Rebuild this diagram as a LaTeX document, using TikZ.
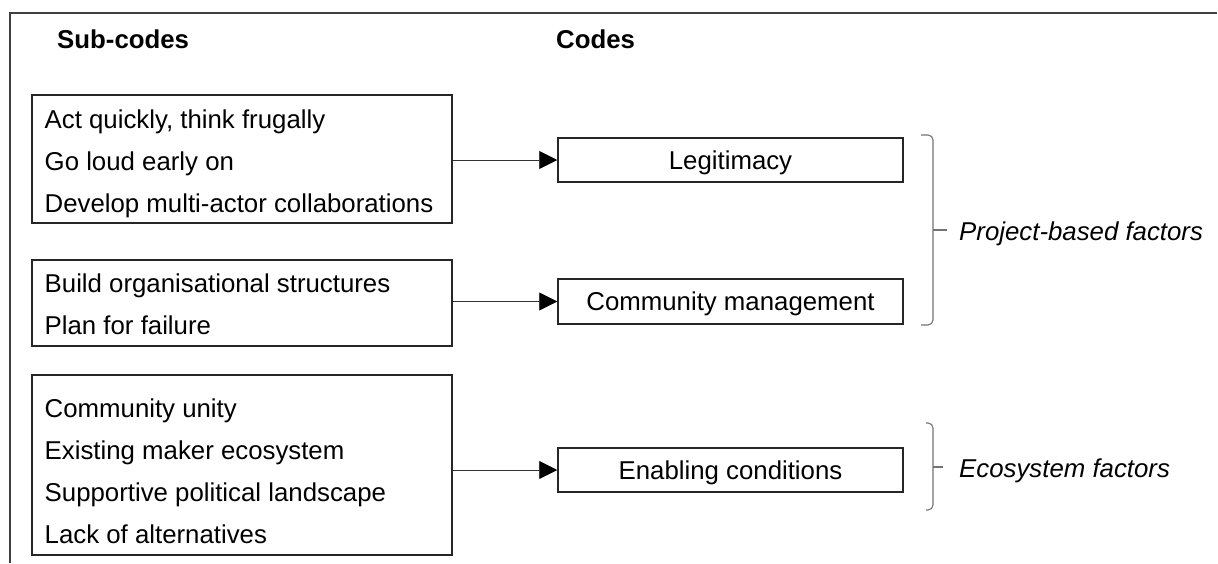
\documentclass[tikz,border=0pt]{standalone}
\usepackage{fontspec}
\setmainfont{Liberation Sans}
\usetikzlibrary{arrows.meta}
\begin{document}
\begin{tikzpicture}[x=1pt,y=-1pt,
  font=\fontsize{25.8}{30}\selectfont,
  subbox/.style={draw=black!85, line width=1.5pt, minimum width=420pt, inner sep=0pt},
  codebox/.style={draw=black!85, line width=1.5pt, minimum width=345pt, minimum height=44pt,
                  inner sep=0pt, text height=18pt, text depth=0pt},
  txt/.style={anchor=base west, inner sep=0pt},
  head/.style={anchor=base west, inner sep=0pt, font=\fontsize{25.8}{30}\selectfont\bfseries},
  factor/.style={anchor=base west, inner sep=0pt, font=\fontsize{25.8}{30}\selectfont\itshape},
  conn/.style={draw=black!80, line width=0.9pt, -{Triangle[length=18pt,width=18pt,color=black]}},
  brace/.style={draw=black!55, line width=1.1pt, rounded corners=5pt},
  framestyle/.style={draw=black!75, line width=2pt}
]
\useasboundingbox (0,0) rectangle (1218,563);
\draw[framestyle] (10,563) -- (10,13) -- (1217,13);

% headings
\node[head] (hsub) at (57,48) {Sub-codes};
\node[head] (hcode) at (556,48) {Codes};

% sub-code boxes
\node[subbox, minimum height=128pt] (s1) at (242,159) {};
\node[subbox, minimum height=86pt] (s2) at (242,303) {};
\node[subbox, minimum height=180pt] (s3) at (242,465) {};

\node[txt] (t11) at (44.5,128) {Act quickly, think frugally};
\node[txt] (t12) at (44.5,170) {Go loud early on};
\node[txt] (t13) at (44.5,212) {Develop multi-actor collaborations};

\node[txt] (t21) at (44.5,292) {Build organisational structures};
\node[txt] (t22) at (44.5,334) {Plan for failure};

\node[txt] (t31) at (44.5,417) {Community unity};
\node[txt] (t32) at (44.5,459) {Existing maker ecosystem};
\node[txt] (t33) at (44.5,501) {Supportive political landscape};
\node[txt] (t34) at (44.5,543) {Lack of alternatives};

% code boxes
\node[codebox] (c1) at (730.5,160) {Legitimacy};
\node[codebox, minimum height=45pt] (c2) at (730.5,301.5) {Community management};
\node[codebox] (c3) at (730.5,470) {Enabling conditions};

% connectors
\draw[conn] (s1.east |- c1.west) -- (c1.west);
\draw[conn] (s2.east |- c2.west) -- (c2.west);
\draw[conn] (s3.east |- c3.west) -- (c3.west);

% braces
\coordinate (b1top) at (921,135);
\coordinate (b1mid) at (933,230);
\coordinate (b1bot) at (921,325);
\coordinate (b1tip) at (947,230);
\draw[brace] (b1top) -| (b1mid);
\draw[brace] (b1bot) -| (b1mid);
\draw[brace] (b1mid) -- (b1tip);
\node[factor] (f1) at (959,240) {Project-based factors};

\coordinate (b2top) at (926,423);
\coordinate (b2mid) at (933,467);
\coordinate (b2bot) at (926,510);
\coordinate (b2tip) at (943,467);
\draw[brace] (b2top) -| (b2mid);
\draw[brace] (b2bot) -| (b2mid);
\draw[brace] (b2mid) -- (b2tip);
\node[factor] (f2) at (959,477) {Ecosystem factors};
\end{tikzpicture}
\end{document}
